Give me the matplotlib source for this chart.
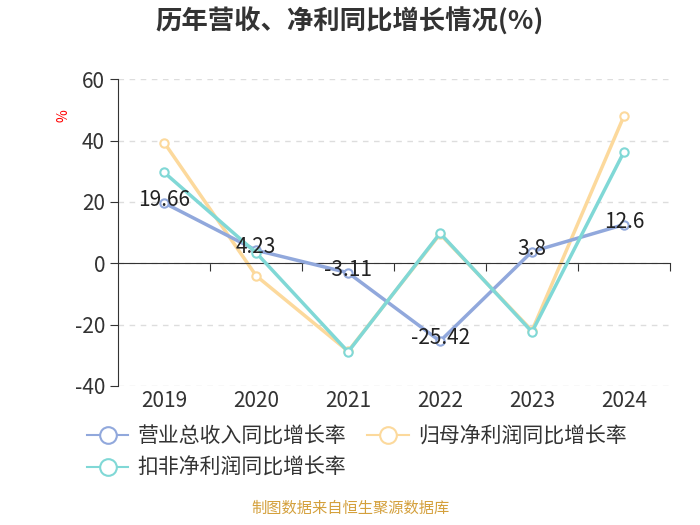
import matplotlib
matplotlib.use('Agg')
import matplotlib.pyplot as plt
from matplotlib.lines import Line2D

plt.rcParams['font.family'] = ['Noto Sans CJK SC', 'DejaVu Sans']
plt.rcParams['axes.unicode_minus'] = False

years = ['2019', '2020', '2021', '2022', '2023', '2024']
revenue = [19.66, 4.23, -3.11, -25.42, 3.8, 12.6]
parent_np = [39.3, -4.1, -28.7, 9.5, -22.0, 48.0]
deducted_np = [29.6, 3.4, -28.9, 9.8, -22.4, 36.3]

names = ['营业总收入同比增长率', '归母净利润同比增长率', '扣非净利润同比增长率']
colors = ['#91a8dc', '#fcd99c', '#80d8d6']

fig = plt.figure(figsize=(7, 5.25), dpi=100)
ax = fig.add_axes([0.169, 0.265, 0.788, 0.584])

x = list(range(len(years)))
handles = []
for vals, c, n, z in zip([revenue, parent_np, deducted_np], colors, names, [3, 2, 4]):
    ax.plot(x, vals, color=c, lw=2.5, zorder=z,
            marker='o', ms=6, mfc='white', mec=c, mew=1.5)
    handles.append(Line2D([0], [0], color=c, lw=1.5, marker='o', ms=12,
                          mfc='white', mec=c, mew=1.5))

for xi, v in zip(x, revenue):
    ax.annotate(f'{v:g}', (xi, v), xytext=(0, 2), textcoords='offset points',
                ha='center', va='center', fontsize=15, color='#222222', zorder=5)

ax.set_xlim(-0.5, 5.5)
ax.set_ylim(-40, 60)
ax.set_yticks([-40, -20, 0, 20, 40, 60])
ax.yaxis.grid(True, ls=(0, (4, 4)), color='#dddddd', lw=1)
ax.set_axisbelow(True)

for s in ['top', 'right']:
    ax.spines[s].set_visible(False)
ax.spines['left'].set_color('#333333')
ax.spines['bottom'].set_position(('data', 0))
ax.spines['bottom'].set_color('#333333')

ax.set_xticks([i + 0.5 for i in x])
ax.set_xticklabels([])
ax.tick_params(axis='x', direction='out', length=6, color='#333333')
ax.tick_params(axis='y', direction='out', length=6, color='#333333',
               labelsize=15, labelcolor='#333333')
for xi, yr in zip(x, years):
    ax.text(xi, -41.5, yr, ha='center', va='top', fontsize=15, color='#333333')

fig.text(0.09, 0.78, '%', color='red', fontsize=10, rotation=90,
         ha='center', va='center')

fig.text(0.5, 0.958, '历年营收、净利同比增长情况(%)', ha='center', va='center',
         fontsize=19, fontweight='bold', color='#333333')

order = [0, 2, 1]
fig.legend([handles[i] for i in order], [names[i] for i in order],
           loc='upper left', bbox_to_anchor=(0.112, 0.205), ncol=2,
           frameon=False, fontsize=15, labelcolor='#333333',
           handlelength=2.0, columnspacing=1.0, handletextpad=0.45,
           borderaxespad=0, labelspacing=0.45)

fig.text(0.5, 0.015, '制图数据来自恒生聚源数据库', ha='center', va='bottom',
         fontsize=11, color='#d4a03c')

fig.savefig('out.png', dpi=100)
